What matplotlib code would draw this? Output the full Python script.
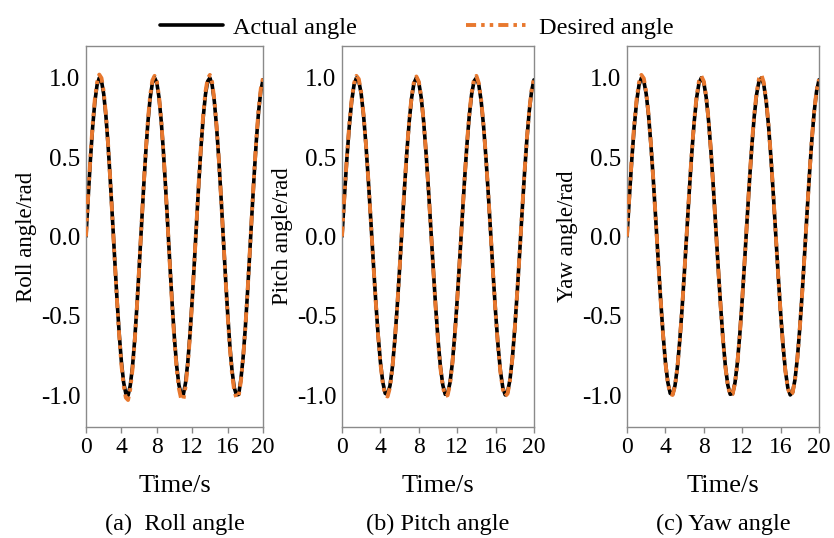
import matplotlib
matplotlib.use("Agg")
import matplotlib.pyplot as plt

plt.rcParams['font.family'] = ['Liberation Serif', 'DejaVu Serif']
plt.rcParams['mathtext.fontset'] = 'stix'

time_s = [0.0, 0.25, 0.5, 0.75, 1.0, 1.25, 1.5, 1.75, 2.0, 2.25, 2.5, 2.75, 3.0, 3.25, 3.5, 3.75,
          4.0, 4.25, 4.5, 4.75, 5.0, 5.25, 5.5, 5.75, 6.0, 6.25, 6.5, 6.75, 7.0, 7.25, 7.5, 7.75,
          8.0, 8.25, 8.5, 8.75, 9.0, 9.25, 9.5, 9.75, 10.0, 10.25, 10.5, 10.75, 11.0, 11.25, 11.5, 11.75,
          12.0, 12.25, 12.5, 12.75, 13.0, 13.25, 13.5, 13.75, 14.0, 14.25, 14.5, 14.75, 15.0, 15.25, 15.5, 15.75,
          16.0, 16.25, 16.5, 16.75, 17.0, 17.25, 17.5, 17.75, 18.0, 18.25, 18.5, 18.75, 19.0, 19.25, 19.5, 19.75, 20.0]

roll_actual = [0.0, 0.25, 0.485, 0.689, 0.849, 0.954, 0.999, 0.980, 0.898, 0.760, 0.572, 0.348, 0.102, -0.150, -0.393, -0.611,
               -0.790, -0.918, -0.990, -1.002, -0.939, -0.822, -0.653, -0.443, -0.204, 0.048, 0.297, 0.527, 0.723, 0.873, 0.967, 1.000,
               0.969, 0.876, 0.727, 0.532, 0.303, 0.055, -0.197, -0.437, -0.648, -0.818, -0.936, -0.994, -0.995, -0.921, -0.794, -0.616,
               -0.399, -0.156, 0.096, 0.342, 0.567, 0.755, 0.895, 0.978, 0.999, 0.956, 0.852, 0.693, 0.491, 0.257, 0.007, -0.244,
               -0.479, -0.684, -0.845, -0.952, -0.998, -0.995, -0.901, -0.764, -0.577, -0.354, -0.109, 0.144, 0.387, 0.606, 0.786, 0.916, 0.987]
roll_desired = [0.0, 0.26, 0.50, 0.705, 0.865, 0.970, 1.020, 0.998, 0.912, 0.768, 0.578, 0.350, 0.100, -0.155, -0.402, -0.625,
                -0.808, -0.938, -1.015, -1.030, -0.962, -0.838, -0.663, -0.447, -0.203, 0.052, 0.304, 0.537, 0.736, 0.888, 0.983, 1.012,
                0.978, 0.882, 0.730, 0.532, 0.300, 0.050, -0.204, -0.448, -0.664, -0.838, -0.958, -1.022, -1.030, -0.945, -0.810, -0.625,
                -0.403, -0.155, 0.100, 0.350, 0.578, 0.770, 0.912, 0.995, 1.018, 0.972, 0.862, 0.698, 0.492, 0.255, 0.003, -0.250,
                -0.490, -0.700, -0.864, -0.972, -1.018, -1.005, -0.912, -0.770, -0.579, -0.352, -0.105, 0.150, 0.396, 0.618, 0.800, 0.930, 0.998]

pitch_actual = [0.0, 0.25, 0.485, 0.689, 0.849, 0.954, 0.999, 0.980, 0.898, 0.760, 0.572, 0.348, 0.102, -0.150, -0.393, -0.611,
                -0.790, -0.918, -0.988, -0.995, -0.939, -0.822, -0.653, -0.443, -0.204, 0.048, 0.297, 0.527, 0.723, 0.873, 0.967, 1.000,
                0.969, 0.876, 0.727, 0.532, 0.303, 0.055, -0.197, -0.437, -0.648, -0.818, -0.936, -0.994, -0.989, -0.921, -0.794, -0.616,
                -0.399, -0.156, 0.096, 0.342, 0.567, 0.755, 0.895, 0.978, 0.999, 0.956, 0.852, 0.693, 0.491, 0.257, 0.007, -0.244,
                -0.479, -0.684, -0.845, -0.952, -0.998, -0.981, -0.901, -0.764, -0.577, -0.354, -0.109, 0.144, 0.387, 0.606, 0.786, 0.916, 0.987]
pitch_desired = [0.0, 0.255, 0.492, 0.698, 0.858, 0.964, 1.012, 0.992, 0.906, 0.765, 0.575, 0.349, 0.101, -0.152, -0.397, -0.617,
                 -0.798, -0.928, -1.000, -1.008, -0.950, -0.830, -0.658, -0.445, -0.204, 0.050, 0.300, 0.532, 0.730, 0.881, 0.976, 1.008,
                 0.975, 0.880, 0.729, 0.532, 0.302, 0.053, -0.200, -0.442, -0.656, -0.828, -0.947, -1.005, -1.000, -0.930, -0.800, -0.620,
                 -0.401, -0.155, 0.098, 0.346, 0.573, 0.763, 0.905, 0.990, 1.012, 0.966, 0.858, 0.696, 0.492, 0.256, 0.005, -0.247,
                 -0.485, -0.692, -0.855, -0.962, -1.005, -0.990, -0.906, -0.767, -0.578, -0.353, -0.107, 0.147, 0.392, 0.612, 0.793, 0.923, 0.995]

yaw_actual = [0.0, 0.25, 0.485, 0.689, 0.849, 0.954, 0.999, 0.980, 0.898, 0.760, 0.572, 0.348, 0.102, -0.150, -0.393, -0.611,
              -0.790, -0.918, -0.988, -0.995, -0.939, -0.822, -0.653, -0.443, -0.204, 0.048, 0.297, 0.527, 0.723, 0.873, 0.967, 1.000,
              0.969, 0.876, 0.727, 0.532, 0.303, 0.055, -0.197, -0.437, -0.648, -0.818, -0.936, -0.994, -0.989, -0.921, -0.794, -0.616,
              -0.399, -0.156, 0.096, 0.342, 0.567, 0.755, 0.895, 0.978, 0.999, 0.956, 0.852, 0.693, 0.491, 0.257, 0.007, -0.244,
              -0.479, -0.684, -0.845, -0.952, -0.998, -0.981, -0.901, -0.764, -0.577, -0.354, -0.109, 0.144, 0.387, 0.606, 0.786, 0.916, 0.987]
yaw_desired = [0.0, 0.26, 0.50, 0.705, 0.865, 0.970, 1.018, 0.996, 0.910, 0.766, 0.576, 0.349, 0.101, -0.152, -0.396, -0.615,
               -0.795, -0.923, -0.992, -0.998, -0.942, -0.826, -0.656, -0.445, -0.204, 0.050, 0.300, 0.532, 0.731, 0.883, 0.980, 1.010,
               0.977, 0.881, 0.729, 0.532, 0.302, 0.053, -0.199, -0.440, -0.652, -0.822, -0.940, -0.998, -0.993, -0.924, -0.797, -0.618,
               -0.400, -0.155, 0.099, 0.348, 0.576, 0.766, 0.908, 0.994, 1.018, 0.970, 0.860, 0.697, 0.492, 0.256, 0.005, -0.246,
               -0.482, -0.688, -0.849, -0.956, -1.000, -0.984, -0.903, -0.766, -0.578, -0.354, -0.108, 0.146, 0.390, 0.610, 0.790, 0.920, 0.990]

panels = [
    ("Roll angle/rad", "(a)  Roll angle", roll_actual, roll_desired),
    ("Pitch angle/rad", "(b) Pitch angle", pitch_actual, pitch_desired),
    ("Yaw angle/rad", "(c) Yaw angle", yaw_actual, yaw_desired),
]
xticks = [0, 4, 8, 12, 16, 20]
yticks = [-1.0, -0.5, 0.0, 0.5, 1.0]
ytick_labels = ["-1.0", "-0.5", "0.0", "0.5", "1.0"]

W, H = 834, 538
fig = plt.figure(figsize=(W / 100, H / 100), dpi=100)

rects_px = [(86, 263), (342, 534), (627, 819)]
top_px, bot_px = 46, 427
orange = "#E8782E"
spine_col = "#8a8a8a"

lines = None
for (ylab, cap, act, des), (x0, x1) in zip(panels, rects_px):
    ax = fig.add_axes([x0 / W, 1 - bot_px / H, (x1 - x0) / W, (bot_px - top_px) / H])
    la, = ax.plot(time_s, act, color="black", lw=2.6, solid_capstyle="round", zorder=2)
    ld, = ax.plot(time_s, des, color=orange, lw=2.8, linestyle=(0, (2.6, 1.3, 0.9, 1.3, 0.9, 1.3)), zorder=3)
    lines = (la, ld)
    ax.set_xlim(0, 20)
    ax.set_ylim(-1.2, 1.2)
    ax.set_xticks(xticks)
    ax.set_yticks(yticks)
    ax.set_yticklabels(ytick_labels)
    ax.tick_params(axis="x", direction="out", length=4, width=1, color=spine_col, labelsize=17, pad=3)
    ax.tick_params(axis="y", length=0, labelsize=18, pad=4)
    for s in ax.spines.values():
        s.set_color(spine_col)
        s.set_linewidth(1.0)
    ax.set_ylabel(ylab, fontsize=16.5, labelpad=3)
    xc = (x0 + x1) / 2 / W
    fig.text(xc, 1 - 486 / H, "Time/s", ha="center", va="center", fontsize=19)
    fig.text(xc, 1 - 524 / H, cap, ha="center", va="center", fontsize=17.5)

fig.legend(lines, ["Actual angle", "Desired angle"], loc="upper center", bbox_to_anchor=(0.5, 1.01),
           ncol=2, frameon=False, fontsize=17.5, handlelength=2.6, columnspacing=4.5, handletextpad=0.4)

fig.savefig("out.png", dpi=100)
